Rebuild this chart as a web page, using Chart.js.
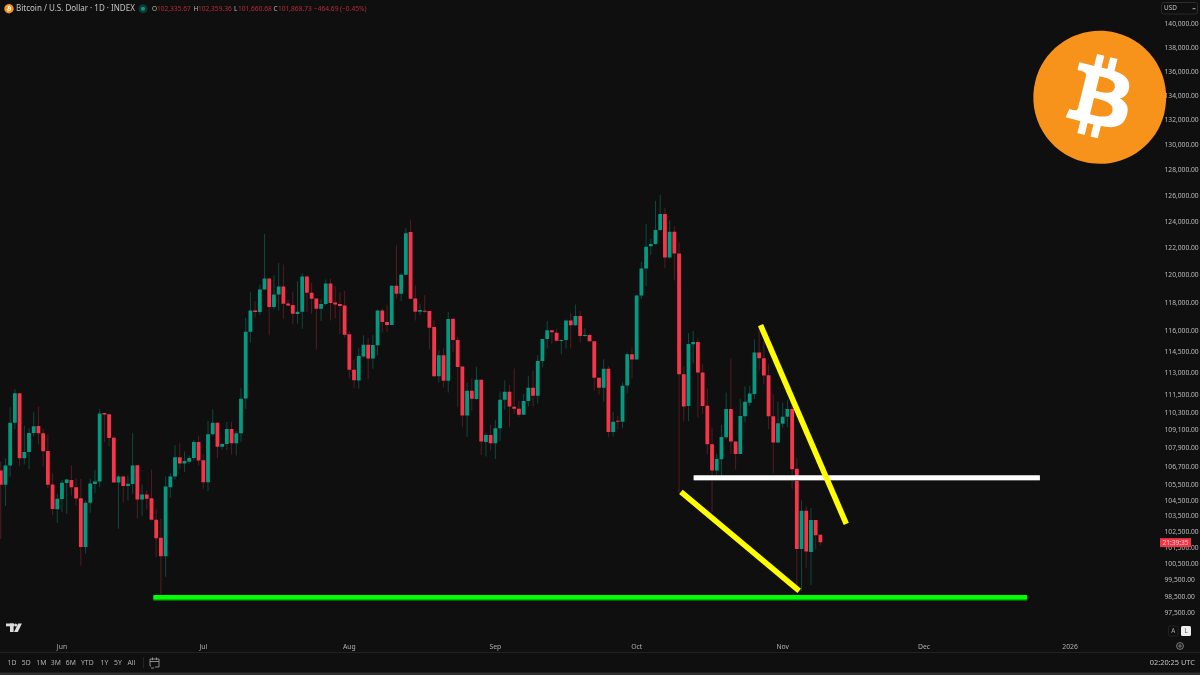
<!DOCTYPE html>
<html>
<head>
<meta charset="utf-8">
<title>Bitcoin / U.S. Dollar</title>
<script src="https://cdn.jsdelivr.net/npm/chart.js@4"></script>
<style>
  html, body { margin: 0; background: #0f0f0f; }
  canvas { display: block; }
</style>
</head>
<body>
<canvas id="chart" width="1200" height="675"></canvas>
<script>
// daily candles, first one is 19 May (days counted from 1 Jun)
const firstDay = -13;
const opens = [
  106450,105520,106780,109620,111630,107260,107670,108930,109400,108910,
  107740,105540,103950,104600,105630,105840,105370,104660,101570,104360,
  105565,105735,110270,110200,108620,105670,106060,105435,105565,106800,
  104575,104900,104660,103285,102150,100990,105370,106060,107320,106910,
  107020,107280,108335,107125,105690,108845,109620,108010,108200,109200,
  108250,108910,111270,115925,117448,117328,118968,119771,117689,118604,
  119186,117953,117833,117184,117352,119917,118725,118314,117568,117905,
  119405,118025,117905,117809,115736,113238,112500,114164,115006,114025,
  114960,117448,116613,116400,119234,118653,120040,123241,118314,117352,
  117424,117400,116257,112799,114258,112477,116851,115335,113465,110116,
  111791,111223,112546,108334,108800,108246,109244,111177,111723,110702,
  110566,110164,111086,111997,111450,113862,115406,116020,115853,115264,
  115335,116732,116375,117040,115618,115689,115241,112684,111997,113307,
  109000,109757,109690,112157,114328,113955,118533,120506,122165,122340,
  123392,124606,121321,123266,121617,112938,110747,115030,115194,113053,
  110770,108180,106450,107190,108642,110543,108356,107543,110050,110973,
  111565,114444,114048,112870,110050,108290,109558,110030,110543,106559,
  101447,103855,101261,103263,102336
];
const highs = [
  107040,107250,110660,111905,111630,109420,109270,110360,110700,109200,
  108820,106280,104940,105840,105910,106800,105950,105890,104510,105910,
  106495,110540,110270,110250,108755,106170,106125,106125,108930,106800,
  105540,105155,106495,103980,103345,106060,106280,108120,108250,107700,
  107430,108465,108755,107500,109757,110540,109640,108250,109690,109690,
  109088,111975,116923,118770,118121,119332,123090,119771,120015,120925,
  120802,118242,118798,119575,120162,120015,119453,118314,118242,119698,
  119747,119210,118750,118870,115972,113979,114795,115665,115500,115665,
  117520,117592,117833,119283,122240,120186,123543,124200,119258,117929,
  118556,117400,116732,114608,114748,117352,116851,115547,113465,112362,
  112638,113442,112546,108910,109488,109824,111745,112523,112202,113330,
  111109,111565,112822,113168,114281,115406,116684,116020,116090,115382,
  116803,117280,117880,117400,116162,115783,115264,112684,113979,113515,
  110365,110094,112362,114445,114795,118580,120998,123845,122715,125626,
  126090,125066,124123,123669,122463,113470,115807,115972,115428,113632,
  111950,109243,107543,109490,111678,114025,108356,111222,112088,112133,
  115380,116210,115264,113632,111565,111041,110996,111177,111177,107277,
  104514,104153,104025,103285,102359
];
const lows = [
  102070,104150,106060,109200,106730,106840,106540,108690,108160,106710,
  105310,103560,103070,103770,103660,104830,104190,100400,101160,103730,
  104984,105370,108310,108050,105670,102717,104360,104510,104940,103370,
  103520,103920,103240,100950,98610,99725,104680,105865,106560,106340,
  106890,107100,106780,105260,105110,108755,107280,107830,107800,107500,
  107430,108310,110545,115147,116923,117113,118968,115665,117520,117448,
  116851,117760,116447,116494,116138,117352,117208,114655,116684,117833,
  116732,116875,115784,115500,112661,111974,111951,114095,112592,113308,
  114258,115854,115900,116400,118314,118121,120015,118242,116732,117113,
  117280,114678,112707,112362,112020,111677,114491,110702,109311,108688,
  110431,111154,107476,107367,107761,107213,108422,110498,109311,110206,
  110028,110164,110702,110702,110930,113400,114725,115075,115217,114328,
  114725,114725,116330,115147,115571,115217,111791,111520,111064,108644,
  108688,109199,109266,111610,112661,113955,118290,119211,121492,122290,
  123342,120555,121246,119624,105045,109712,109712,113678,109980,110207,
  107497,103770,106190,106127,108532,107543,106515,107543,109646,110770,
  111222,113168,112250,109199,106278,108246,109265,109310,105262,99116,
  98874,100275,99217,101426,101661
];
const closes = [
  105520,106780,109620,111630,107260,107670,108930,109380,108910,107720,
  105520,103960,104620,105650,105860,105370,104640,101570,104360,105610,
  105735,110250,110183,108600,105670,106060,105435,105585,106780,104575,
  104900,104620,103285,102110,100990,105410,106060,107320,106910,107080,
  107280,108335,107100,105690,108845,109620,108010,108200,109200,108250,
  108910,111245,115925,117448,117328,118968,119771,117689,118604,119186,
  117929,117809,117208,117352,119917,118725,118290,117568,117905,119405,
  117977,117880,117760,115712,113238,112523,114211,115006,114025,114983,
  117448,116613,116400,119234,118653,120040,123140,118290,117352,117472,
  117352,116209,112799,114258,112477,116827,115335,113442,110116,111791,
  111245,112546,108356,108800,108246,109244,111177,111723,110725,110566,
  110164,111086,111997,111450,113862,115406,116020,115877,115288,115335,
  116732,116375,117040,115618,115689,115241,112684,111997,113307,109000,
  109690,109690,112134,114328,113955,118533,120506,122140,122340,123392,
  124606,121321,123266,121617,112938,110724,115054,115194,113053,110747,
  108180,106450,107212,108664,110543,108356,107543,110073,111041,111610,
  114444,114048,112847,110050,108290,109580,110030,110543,106537,101447,
  103855,101282,103263,102299,101869
];

// hand drawn lines, [day, price]
const greenLine = [[19.4, 98480], [204.9, 98480]];
const greenEdge = [[19.4, 98410], [204.9, 98410]];
const whiteLine = [[134.1, 105990], [207.6, 105990]];
const whiteEdge = [[134.1, 105910], [207.6, 105910]];
const yellowUpper = [[148.3, 116390], [166.5, 103020]];
const yellowLower = [[131.4, 105060], [156.5, 98870]];

const monthDays = [0, 30, 61, 92, 122, 153, 183, 214];
const monthLabels = ["Jun", "Jul", "Aug", "Sep", "Oct", "Nov", "Dec", "2026"];
const priceTicks = [
  140000,138000,136000,134000,132000,130000,128000,126000,124000,122000,120000,118000,116000,
  114500,113000,111500,110300,109100,107900,106700,105500,104500,103500,102500,101500,100500,
  99500,98500,97500
];
const rangeButtons = [["1D",7.5],["5D",21.8],["1M",36.3],["3M",50.8],["6M",65.8],["YTD",81],["1Y",100.5],["5Y",114],["All",127.5]];

const UP = "#049981", DOWN = "#f7354a", UP_WICK = "#0b4a3f", DOWN_WICK = "#561b23";
const FONT = '"Noto Sans", sans-serif';
const COIN_RING = "M4030.06 2540.77c-273.24,1096.01 -1383.32,1763.02 -2479.46,1489.71 -1095.68,-273.24 -1762.69,-1383.39 -1489.33,-2479.31 273.12,-1096.13 1383.2,-1763.19 2479,-1489.95 1096.06,273.24 1763.03,1383.51 1489.76,2479.57l0.02 -0.02z";
const COIN_B = "M2947.77 1754.38c40.72,-272.26 -166.56,-418.61 -450,-516.24l91.95 -368.8 -224.5 -55.94 -89.51 359.09c-59.02,-14.72 -119.63,-28.59 -179.87,-42.34l90.16 -361.46 -224.36 -55.94 -92 368.68c-48.84,-11.12 -96.81,-22.11 -143.35,-33.69l0.26 -1.16 -309.59 -77.31 -59.72 239.78c0,0 166.56,38.18 163.05,40.53 90.91,22.69 107.35,82.87 104.62,130.57l-104.74 420.15c6.26,1.59 14.38,3.89 23.34,7.49 -7.49,-1.86 -15.46,-3.89 -23.73,-5.87l-146.81 588.57c-11.11,27.62 -39.31,69.07 -102.87,53.33 2.25,3.26 -163.17,-40.72 -163.17,-40.72l-111.46 256.98 292.15 72.83c54.35,13.63 107.61,27.89 160.06,41.3l-92.9 373.03 224.24 55.94 92 -369.07c61.26,16.63 120.71,31.97 178.91,46.43l-91.69 367.33 224.51 55.94 92.89 -372.33c382.82,72.45 670.67,43.24 791.83,-303.02 97.63,-278.78 -4.86,-439.58 -206.26,-544.44 146.69,-33.83 257.18,-130.31 286.64,-329.61l-0.07 -0.05zm-512.93 719.26c-69.38,278.78 -538.76,128.08 -690.94,90.29l123.28 -494.2c152.17,37.99 640.17,113.17 567.67,403.91zm69.43 -723.3c-63.29,253.58 -453.96,124.75 -580.69,93.16l111.77 -448.21c126.73,31.59 534.85,90.55 468.94,355.05l-0.02 0z";

const days = opens.map((_, i) => firstDay + i);
const fmtPrice = (v) => v.toLocaleString("en-US", { minimumFractionDigits: 2, maximumFractionDigits: 2 });
const asLine = (pts) => pts.map(([x, y]) => ({ x, y }));
const drawn = (pts, color, width, order) => ({
  type: "line", data: asLine(pts), borderColor: color, borderWidth: width,
  pointRadius: 0, borderCapStyle: "butt", order,
});

function text(ctx, str, x, y, color, size, align) {
  ctx.fillStyle = color;
  ctx.font = `${size}px ${FONT}`;
  ctx.textAlign = align || "left";
  ctx.textBaseline = "middle";
  ctx.fillText(str, x, y);
}

function coin(ctx, cx, cy, r) {
  const s = r / 2045.5;
  ctx.save();
  ctx.translate(cx, cy);
  ctx.scale(s, s);
  ctx.translate(-2045.5, -2045.5);
  ctx.fillStyle = "#f7931a";
  ctx.fill(new Path2D(COIN_RING));
  ctx.fillStyle = "#ffffff";
  ctx.fill(new Path2D(COIN_B), "evenodd");
  ctx.restore();
}

const chrome = {
  id: "chrome",
  beforeDraw(chart) {
    const ctx = chart.ctx;
    ctx.save();
    ctx.fillStyle = "#0f0f0f";
    ctx.fillRect(0, 0, 1200, 675);
    ctx.restore();
  },
  afterDraw(chart) {
    const ctx = chart.ctx;
    const yScale = chart.scales.y;
    ctx.save();

    // header
    coin(ctx, 9, 8.7, 4.7);
    text(ctx, "Bitcoin / U.S. Dollar · 1D · INDEX", 16, 8.7, "#c4c4c4", 8);
    ctx.fillStyle = "#0d3b33";
    ctx.beginPath(); ctx.arc(143, 8.7, 4.5, 0, Math.PI * 2); ctx.fill();
    ctx.fillStyle = "#089981";
    ctx.beginPath(); ctx.arc(143, 8.7, 2, 0, Math.PI * 2); ctx.fill();
    const red = "#b52c3a";
    [["O", 152, "102,335.67", 157], ["H", 193.5, "102,359.36", 198], ["L", 234, "101,660.68", 238], ["C", 273.5, "101,868.73", 278]].forEach((p) => {
      text(ctx, p[0], p[1], 8.7, "#b8b8b8", 6.5);
      text(ctx, p[2], p[3], 8.7, red, 6.6);
    });
    text(ctx, "−464.69 (−0.45%)", 314, 8.7, red, 6.6);

    // big logo sits above the price axis
    coin(ctx, 1099.8, 97.3, 66.5);

    // currency box
    ctx.strokeStyle = "#2b2b2b";
    ctx.lineWidth = 1;
    ctx.beginPath(); ctx.roundRect(1161.5, 2.5, 36, 11.5, 2); ctx.stroke();
    text(ctx, "USD", 1164, 8.5, "#c4c4c4", 6.4);
    ctx.fillStyle = "#c4c4c4";
    ctx.fillRect(1192.5, 8.3, 3, 0.9);

    // countdown tag follows the last close
    const tagY = yScale.getPixelForValue(closes[closes.length - 1]);
    ctx.fillStyle = "#f23645";
    ctx.fillRect(1160, tagY - 4, 31, 9);
    text(ctx, "21:39:35", 1175.5, tagY + 0.6, "#ffc9cf", 6.6, "center");

    // TV mark
    ctx.fillStyle = "#dcdcdc";
    ctx.fillRect(6, 623.5, 8, 2.8);
    ctx.fillRect(10, 623.5, 3.6, 8.5);
    ctx.beginPath(); ctx.arc(15.6, 625, 1.5, 0, Math.PI * 2); ctx.fill();
    ctx.beginPath();
    ctx.moveTo(18.2, 623.5); ctx.lineTo(21.9, 623.5); ctx.lineTo(17.8, 632); ctx.lineTo(14, 632);
    ctx.closePath(); ctx.fill();

    // bottom toolbar
    ctx.fillStyle = "#222222";
    ctx.fillRect(0, 652, 1200, 1);
    ctx.fillStyle = "#2e2e2e";
    ctx.fillRect(0, 672.5, 1200, 2.5);
    rangeButtons.forEach(([label, x]) => text(ctx, label, x, 663, "#b0b0b0", 6.8));
    ctx.fillStyle = "#2a2a2a";
    ctx.fillRect(143, 657, 0.8, 11);
    ctx.strokeStyle = "#a8a8a8";
    ctx.lineWidth = 0.8;
    ctx.beginPath();
    ctx.moveTo(151, 666); ctx.lineTo(150, 666); ctx.lineTo(150, 659); ctx.lineTo(159, 659); ctx.lineTo(159, 667); ctx.lineTo(155, 667);
    ctx.moveTo(150, 661.5); ctx.lineTo(159, 661.5);
    ctx.moveTo(152.5, 657.5); ctx.lineTo(152.5, 660);
    ctx.moveTo(156.5, 657.5); ctx.lineTo(156.5, 660);
    ctx.moveTo(151, 668); ctx.lineTo(154, 668);
    ctx.stroke();
    text(ctx, "02:20:25 UTC", 1195, 663, "#c4c4c4", 7.4, "right");

    // auto / log buttons and settings
    ctx.strokeStyle = "#262626";
    ctx.beginPath(); ctx.roundRect(1168.5, 626, 9.5, 10, 1.5); ctx.stroke();
    text(ctx, "A", 1173.3, 631, "#a8a8a8", 6.2, "center");
    ctx.fillStyle = "#eeeeee";
    ctx.beginPath(); ctx.roundRect(1181, 626, 10, 10, 1.5); ctx.fill();
    text(ctx, "L", 1186, 631, "#555555", 6.2, "center");
    ctx.strokeStyle = "#9a9a9a";
    ctx.lineWidth = 0.8;
    ctx.beginPath(); ctx.arc(1180, 646, 3.4, 0, Math.PI * 2); ctx.stroke();
    ctx.beginPath(); ctx.arc(1180, 646, 1.2, 0, Math.PI * 2); ctx.stroke();

    ctx.restore();
  },
};

new Chart(document.getElementById("chart"), {
  type: "bar",
  data: {
    datasets: [
      drawn(yellowLower, "#ffff00", 5.6, 1),
      drawn(yellowUpper, "#ffff00", 5.6, 1),
      drawn(whiteLine, "#ffffff", 4.6, 2),
      drawn(greenLine, "#00ff00", 4.6, 2),
      drawn(whiteEdge, "#5e5e5e", 4.6, 3),
      drawn(greenEdge, "#0a7d0a", 4.6, 3),
      {
        data: days.map((x, i) => ({ x, y: [opens[i], closes[i]] })),
        backgroundColor: days.map((_, i) => (closes[i] >= opens[i] ? UP : DOWN)),
        barThickness: 3.8, grouped: false, borderWidth: 0, inflateAmount: 0, order: 4,
      },
      {
        data: days.map((x, i) => ({ x, y: [lows[i], highs[i]] })),
        backgroundColor: days.map((_, i) => (closes[i] >= opens[i] ? UP_WICK : DOWN_WICK)),
        barThickness: 1, grouped: false, borderWidth: 0, inflateAmount: 0, order: 5,
      },
    ],
  },
  plugins: [chrome],
  options: {
    responsive: false,
    animation: false,
    devicePixelRatio: 1,
    events: [],
    layout: { autoPadding: false, padding: 0 },
    plugins: { legend: { display: false }, tooltip: { enabled: false } },
    scales: {
      x: {
        type: "linear",
        offset: false,
        bounds: "data",
        min: -13.16,
        max: 233.1,
        grid: { display: false, drawTicks: false },
        border: { display: false },
        afterFit: (s) => { s.height = 39; },
        afterBuildTicks: (s) => { s.ticks = monthDays.map((value) => ({ value })); },
        ticks: {
          autoSkip: false,
          maxRotation: 0,
          padding: 7,
          color: "#b0b0b0",
          font: { family: FONT, size: 6.8 },
          callback: (v, i) => monthLabels[i],
        },
      },
      y: {
        type: "logarithmic",
        position: "right",
        bounds: "data",
        min: 96164,
        max: 141372,
        grid: { display: false, drawTicks: false },
        border: { display: false },
        afterFit: (s) => { s.width = 40; },
        afterBuildTicks: (s) => { s.ticks = priceTicks.map((value) => ({ value })); },
        ticks: {
          autoSkip: false,
          padding: 4.5,
          color: "#bcbcbc",
          font: { family: FONT, size: 6.7 },
          callback: (v) => fmtPrice(v),
        },
      },
    },
  },
});
</script>
</body>
</html>
